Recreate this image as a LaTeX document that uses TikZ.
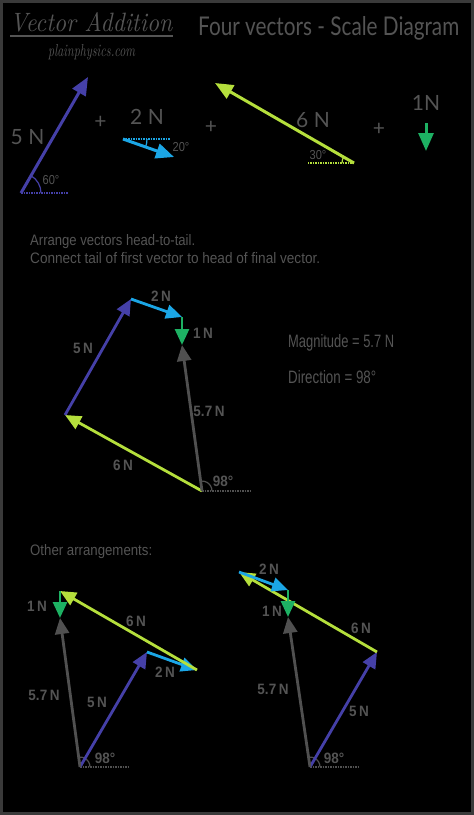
\documentclass[tikz,border=0pt]{standalone}
\usepackage{fontspec}
\usepackage{graphicx}
\usetikzlibrary{arrows.meta}
\newfontfamily\thinf{Lato}
\newfontfamily\sansf{Liberation Sans}
\newfontfamily\labf[FakeStretch=0.9]{Liberation Sans}
\newfontfamily\angf[FakeStretch=0.85]{Liberation Sans}
\definecolor{bordergrey}{HTML}{3A3A3A}
\definecolor{txtgrey}{HTML}{545454}
\definecolor{vpurple}{HTML}{4540A8}
\definecolor{vcyan}{HTML}{1BA6E6}
\definecolor{vlime}{HTML}{B5DF3C}
\definecolor{vgreen}{HTML}{1DB163}
\definecolor{vgrey}{HTML}{505050}
\tikzset{
  vec/.style={line width=2.8pt, -{Triangle[length=16pt,width=14pt]}},
  bigvec/.style={line width=3pt, -{Triangle[length=18pt,width=15pt]}},
  lab/.style={text=txtgrey, font=\labf\bfseries\fontsize{15}{15}\selectfont, inner sep=0pt},
  biglab/.style={text=txtgrey, font=\thinf\fontsize{21}{21}\selectfont, inner sep=0pt},
  anglab/.style={text=txtgrey, font=\angf\fontsize{13}{13}\selectfont, inner sep=0pt},
  txt/.style={text=txtgrey, font=\sansf, inner sep=0pt, anchor=base west},
  basedots/.style={line width=1.5pt, dash pattern=on 1.5pt off 1pt},
  arcm/.style={line width=1.2pt},
}
\begin{document}
\begin{tikzpicture}[x=1pt,y=-1pt]
\useasboundingbox (0,0) rectangle (474,815);
\fill[bordergrey] (0,0) rectangle (474,815);
\fill[black] (3,3) rectangle (471,812);

% ---------- header ----------
\node[text=txtgrey, inner sep=0pt, anchor=base west] (brand) at (10,31)
  {\resizebox{162pt}{19pt}{\itshape Vector Addition}};
\coordinate (ulA) at (10,36);
\coordinate (ulB) at (173,36);
\draw[txtgrey, line width=1.5pt] (ulA) -- (ulB);
\node[text=txtgrey, inner sep=0pt, anchor=base west] (site) at (48,56)
  {\resizebox{87pt}{12pt}{\itshape plainphysics.com}};
\node[text=txtgrey, font=\thinf, inner sep=0pt, anchor=base west] (ttl) at (198,35)
  {\resizebox{261pt}{19pt}{Four vectors - Scale Diagram}};

% ---------- top row: the four vectors ----------
\coordinate (T5a) at (21,193);  \coordinate (T5b) at (88,77);
\coordinate (T2a) at (123,139); \coordinate (T2b) at (174,157);
\coordinate (T6a) at (354,163); \coordinate (T6b) at (215,83);
\coordinate (T1a) at (426,123); \coordinate (T1b) at (426,151);

\draw[basedots, vpurple] (T5a) -- ++(47,0);
\draw[arcm, vpurple] (T5a) ++(20,0) arc[start angle=0, end angle=-60, radius=20];
\draw[bigvec, vpurple] (T5a) -- (T5b);
\node[anglab] (a60) at (51,180) {60°};
\node[biglab] (l5) at (27.5,137.5) {5 N};
\node[biglab] (p1) at (100.5,122.5) {+};

\draw[basedots, vcyan] (T2a) -- ++(47,0);
\draw[arcm, vcyan] (T2a) ++(24,0) arc[start angle=0, end angle=20, radius=24];
\draw[bigvec, vcyan] (T2a) -- (T2b);
\node[anglab] (a20) at (181,147) {20°};
\node[biglab] (l2) at (147,117) {2 N};
\node[biglab] (p2) at (211,127.5) {+};

\draw[basedots, vlime] (T6a) -- ++(-46,0);
\draw[arcm, vlime] (T6a) ++(-12,0) arc[start angle=180, end angle=210, radius=12];
\draw[bigvec, vlime] (T6a) -- (T6b);
\node[anglab] (a30) at (318,155) {30°};
\node[biglab] (l6) at (313,120) {6 N};
\node[biglab] (p3) at (379,129) {+};

\draw[bigvec, vgreen] (T1a) -- (T1b);
\node[biglab] (l1) at (426,103) {1N};

% ---------- instructions ----------
\node[txt] (ins1) at (30,245) {\resizebox{165pt}{11pt}{Arrange vectors head-to-tail.}};
\node[txt] (ins2) at (30,263) {\resizebox{290pt}{11pt}{Connect tail of first vector to head of final vector.}};

% ---------- middle: head-to-tail ----------
\coordinate (M0) at (202,491);
\coordinate (M1) at (65,415);
\coordinate (M2) at (131,299);
\coordinate (M3) at (182,317);
\coordinate (M4) at (182,345);
\draw[basedots, vgrey] (M0) -- ++(50,0);
\draw[arcm, vgrey] (M0) ++(10,0) arc[start angle=0, end angle=-98, radius=10];
\draw[vec, vlime] (M0) -- (M1);
\draw[vec, vpurple] (M1) -- (M2);
\draw[vec, vcyan] (M2) -- (M3);
\draw[vec, vgreen] (M3) -- (M4);
\draw[vec, vgrey] (M0) -- (M4);
\node[lab] (m2n) at (161,296) {2\,N};
\node[lab] (m1n) at (203,333) {1\,N};
\node[lab] (m5n) at (83,348) {5\,N};
\node[lab] (m57) at (209,411) {5.7\,N};
\node[lab] (m6n) at (123,465) {6\,N};
\node[lab] (m98) at (223,481) {98°};

\node[txt] (mag) at (288,347) {\resizebox{106pt}{13pt}{Magnitude = 5.7 N}};
\node[txt] (dir) at (288,383) {\resizebox{88pt}{13pt}{Direction = 98°}};

% ---------- other arrangements ----------
\node[txt] (oth) at (30,555) {\resizebox{122pt}{11pt}{Other arrangements:}};

% bottom left
\coordinate (L0) at (80,767);
\coordinate (L1) at (147,652);
\coordinate (L2) at (197,670);
\coordinate (L3) at (60,591);
\coordinate (L4) at (60,618);
\draw[basedots, vgrey] (L0) -- ++(48,0);
\draw[arcm, vgrey] (L0) ++(10,0) arc[start angle=0, end angle=-98, radius=10];
\draw[vec, vpurple] (L0) -- (L1);
\draw[vec, vcyan] (L1) -- (L2);
\draw[vec, vlime] (L2) -- (L3);
\draw[vec, vgreen] (L3) -- (L4);
\draw[vec, vgrey] (L0) -- (L4);
\node[lab] (b1n) at (37,606) {1\,N};
\node[lab] (b6n) at (136,621) {6\,N};
\node[lab] (b2n) at (165,672) {2\,N};
\node[lab] (b57) at (44,695) {5.7\,N};
\node[lab] (b5n) at (97,702) {5\,N};
\node[lab] (b98) at (105,758) {98°};

% bottom right
\coordinate (R0) at (310,767);
\coordinate (R1) at (377,652);
\coordinate (R2) at (239,572);
\coordinate (R3) at (288,590);
\coordinate (R4) at (288,617);
\draw[basedots, vgrey] (R0) -- ++(50,0);
\draw[arcm, vgrey] (R0) ++(10,0) arc[start angle=0, end angle=-98, radius=10];
\draw[vec, vpurple] (R0) -- (R1);
\draw[vec, vlime] (R1) -- (R2);
\draw[vec, vcyan] (R2) -- (R3);
\draw[vec, vgreen] (R3) -- (R4);
\draw[vec, vgrey] (R0) -- (R4);
\node[lab] (r2n) at (269,569) {2\,N};
\node[lab] (r1n) at (272,611) {1\,N};
\node[lab] (r6n) at (361,628) {6\,N};
\node[lab] (r57) at (273,689) {5.7\,N};
\node[lab] (r5n) at (359,711) {5\,N};
\node[lab] (r98) at (334,758) {98°};
\end{tikzpicture}
\end{document}
